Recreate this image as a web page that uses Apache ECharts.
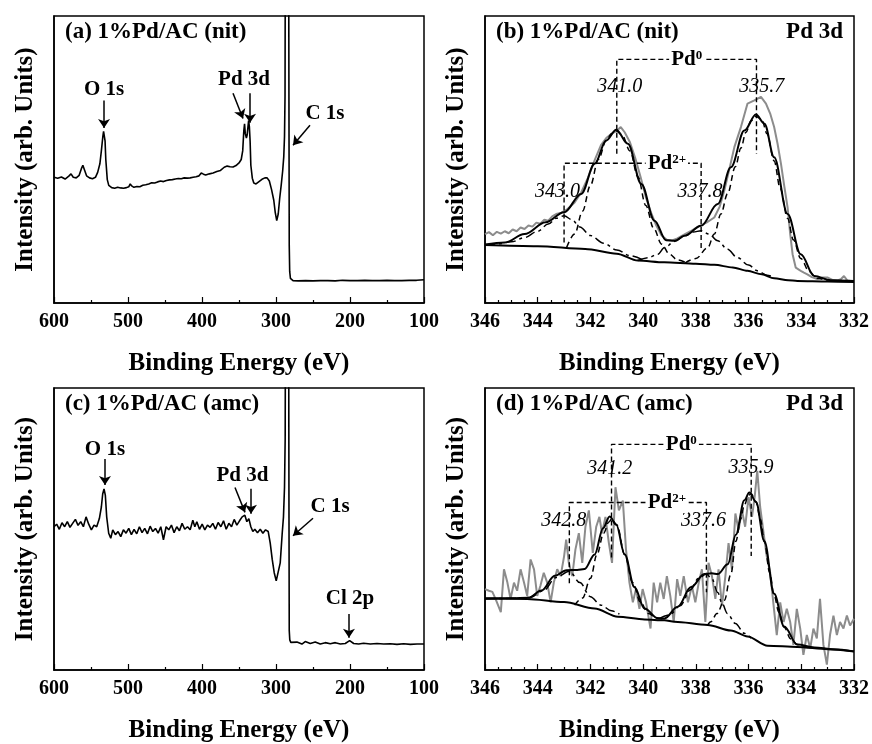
<!DOCTYPE html>
<html>
<head>
<meta charset="utf-8">
<script src="https://cdn.jsdelivr.net/npm/echarts/dist/echarts.min.js"></script>
<style>
  html, body { margin: 0; padding: 0; background: #fff; }
  #chart { width: 872px; height: 744px; }
</style>
</head>
<body>
<div id="chart"></div>
<script>
// ---- survey spectra: [binding energy (eV), intensity (arb.)] ----
var nitSurvey = [[600,43.8],[595,43.5],[590,43.9],[585,43.2],[580,44.2],[577,45.0],[574,43.8],[570,43.6],[566,44.5],[563,46.8],[561,48.0],[559,46.5],[556,44.3],[552,43.6],[548,43.3],[544,43.8],[541,45.5],[538,48.5],[536,53.0],[534,58.0],[533,59.8],[532,59.5],[531,56.5],[530,50.0],[528,43.0],[526,41.0],[522,40.2],[518,40.0],[514,40.3],[510,40.1],[506,40.0],[502,40.2],[499,40.5],[497,41.5],[495,40.8],[492,40.3],[488,40.6],[484,40.5],[480,41.0],[476,41.2],[472,41.5],[468,41.9],[464,41.8],[460,42.2],[456,42.5],[452,42.3],[448,42.7],[444,42.9],[440,43.0],[436,43.2],[432,43.4],[428,43.3],[424,43.6],[420,43.5],[416,43.6],[412,43.8],[408,44.0],[404,44.3],[401,45.3],[398,44.9],[395,44.6],[390,45.0],[385,45.3],[380,45.8],[375,46.2],[370,47.3],[366,47.7],[362,47.5],[358,47.4],[354,47.9],[350,48.8],[347,50.0],[345,53.0],[343.5,60.0],[342.5,62.4],[341.5,59.0],[340,57.5],[339,58.5],[338,61.0],[337,63.6],[336,61.5],[335,56.5],[334,48.0],[332,43.5],[330,41.8],[327,41.5],[323,42.3],[319,43.1],[315,43.6],[312,43.6],[309,42.5],[306,39.5],[303,35.8],[301,31.5],[299,28.7],[297,31.0],[295,36.5],[293,41.0],[291,46.0],[289.5,51.0],[288.5,58.0],[287.8,72.0],[287.3,140],[283,140],[282.5,70],[282.1,20],[281.5,11.0],[280.5,8.6],[279,8.0],[277,7.8],[270,7.7],[260,7.8],[250,7.7],[240,7.8],[230,7.8],[220,7.7],[210,7.9],[200,7.8],[190,7.8],[180,7.9],[170,7.8],[160,7.8],[150,7.9],[140,7.8],[130,7.8],[120,7.9],[110,7.9],[100,8.1]];

var amcSurvey = [[600,50.8],[596.4,51.7],[592.8,49.9],[589.2,52.2],[585.6,50.8],[582,52.6],[578.4,50.6],[574.8,52.0],[571.1,53.4],[567.5,51.3],[563.9,52.6],[560.3,50.8],[556.7,54.3],[553.1,51.7],[549.5,49.7],[545.9,51.4],[542.3,50.8],[538.7,53.7],[536,57.8],[534.2,62.4],[532.4,64.2],[530.6,61.9],[528.8,54.3],[526.1,48.5],[523.3,46.7],[520.6,49.7],[517,48.0],[513.4,49.1],[509.8,47.3],[506.2,49.7],[502.6,48.5],[499,50.2],[495.4,48.0],[491.8,49.9],[488.2,48.3],[484.6,50.8],[481,48.7],[477.4,50.2],[473.7,48.3],[470.1,51.0],[466.5,49.1],[462.9,50.2],[459.3,48.5],[455.7,50.8],[452.1,46.2],[448.5,50.8],[444.9,49.7],[441.3,51.4],[437.7,48.7],[434.1,50.8],[430.5,49.4],[426.9,52.0],[423.3,49.9],[419.6,50.8],[416,49.7],[412.4,53.1],[409.7,50.8],[407,52.6],[403.4,49.9],[399.8,51.7],[396.2,49.7],[392.6,51.4],[389,50.6],[385.4,52.0],[381.8,49.9],[378.2,52.3],[374.5,50.8],[370.9,52.9],[367.3,49.9],[363.7,52.0],[360.1,50.8],[356.5,53.4],[352.9,51.4],[349.3,52.9],[345.7,54.3],[342.1,54.9],[339.4,52.6],[336.7,53.7],[334,50.8],[331.3,49.1],[328.6,49.9],[325,48.7],[321.3,49.9],[317.7,48.5],[314.1,49.7],[310.5,49.1],[307.8,45.0],[305.1,39.2],[302.4,34.5],[299.7,31.6],[297,32.2],[294.3,38.0],[291.6,48.5],[289.9,54.3],[288.5,64.8],[287.6,82.0],[287.1,140],[283,140],[282.5,60],[282.1,14.0],[281.4,10.7],[280,9.8],[277.4,9.5],[271.7,9.9],[265,9.2],[260.5,10.1],[253.7,9.4],[247,9.9],[240.2,9.2],[233.4,9.7],[226.7,9.3],[219.9,9.7],[213.1,9.2],[206.4,9.4],[200.5,10.4],[195,9.4],[188.3,9.2],[181.6,9.5],[172.5,9.2],[163.5,9.4],[154.5,9.2],[145.5,9.3],[136.5,9.1],[127.5,9.3],[118.4,9.1],[109.4,9.2],[100,9.2]];

// ---- Pd 3d, 1%Pd/AC (nit) ----
var nitRaw = [[346.0,24.0],[345.85,24.7],[345.7,23.6],[345.55,24.8],[345.4,24.2],[345.25,25.0],[345.1,24.3],[344.95,25.6],[344.8,25.0],[344.65,26.3],[344.5,25.8],[344.35,27.0],[344.2,26.6],[344.05,28.0],[343.9,27.6],[343.75,29.0],[343.6,28.7],[343.45,30.2],[343.3,31.0],[343.1,31.5],[342.9,32.5],[342.6,35.0],[342.35,38.5],[342.1,43.5],[341.85,49.5],[341.6,55.0],[341.4,57.5],[341.2,59.0],[341.0,60.0],[340.85,61.3],[340.7,59.5],[340.5,56.0],[340.3,50.5],[340.1,44.0],[339.9,37.0],[339.7,31.5],[339.5,27.0],[339.3,23.5],[339.1,22.0],[338.9,21.8],[338.7,22.5],[338.43,23.9],[338.2,25.0],[337.93,26.5],[337.6,28.0],[337.3,29.8],[337.1,33.5],[336.92,39.2],[336.72,47.0],[336.54,54.3],[336.29,61.3],[336.04,69.5],[335.78,70.6],[335.53,71.8],[335.34,69.5],[335.18,66.0],[335.03,61.3],[334.9,55.5],[334.77,48.5],[334.65,41.0],[334.52,33.3],[334.42,24.0],[334.33,17.0],[334.21,12.3],[334.02,11.2],[333.9,10.6],[333.77,10.0],[333.6,9.0],[333.39,8.3],[333.2,8.9],[333.01,8.9],[332.8,8.0],[332.63,7.9],[332.5,8.3],[332.38,9.4],[332.25,7.8],[332.13,7.7],[332.0,7.6]];
var nitEnvelope = [[346,20.4],[345.24,21.1],[344.5,24.0],[343.7,28.1],[343.0,31.6],[342.35,38.0],[341.84,48.5],[341.4,56.6],[341.02,60.4],[340.58,55.5],[340.07,41.5],[339.57,28.7],[339.13,21.9],[338.8,21.7],[338.43,23.4],[337.8,26.9],[337.17,34.5],[336.67,47.3],[336.16,60.1],[335.72,65.7],[335.4,62.5],[335.03,50.8],[334.52,31.0],[334.02,17.0],[333.51,9.4],[332.88,7.9],[332.0,7.7]];
var nitBackground = [[346,20.2],[344,19.8],[342.2,18.8],[341,17.2],[340.2,14.8],[339.2,14.2],[338,13.7],[337.3,13.3],[336.6,12.4],[336.04,11.2],[335.5,10.0],[335.03,8.6],[334.5,7.9],[334.15,7.7],[333,7.5],[332,7.3]];
var nitPd0a = [[342.9,19.4],[342.6,24],[342.3,32],[342.0,41],[341.7,50],[341.4,56.5],[341.2,59],[341.0,59.8],[340.8,58.5],[340.5,53],[340.2,44],[339.9,34],[339.6,26],[339.3,20.5],[339.0,17],[338.7,15],[338.4,14.2]];
var nitPd0b = [[338.4,14.0],[338.0,15.5],[337.55,19.3],[337.3,24],[337.05,31],[336.8,38],[336.5,47.5],[336.29,54],[336.1,59.5],[335.9,63.5],[335.72,65],[335.5,64],[335.3,59],[335.03,49.5],[334.8,40],[334.52,29.5],[334.3,22],[334.02,15.5],[333.7,11],[333.4,8.6],[333.0,7.7]];
var nitPd2a = [[346,20.2],[345.5,20.6],[345,21.3],[344.5,22.8],[344,25.0],[343.6,27.5],[343.3,29.5],[343.0,30.4],[342.7,29.0],[342.4,26.5],[342.0,23.5],[341.5,20.8],[341.0,18.5],[340.5,16.5],[340.0,15.0]];
var nitPd2b = [[340.2,14.8],[339.8,15.8],[339.44,17.0],[339.19,19.3],[338.8,21.5],[338.4,23.5],[338.1,24.7],[337.8,25.2],[337.5,24.0],[337.17,21.7],[336.8,18.7],[336.42,15.8],[336.0,13.2],[335.66,11.2],[335.3,9.7],[335.03,8.9]];

// ---- Pd 3d, 1%Pd/AC (amc) ----
var amcRaw = [[346.0,28.7],[345.85,28.1],[345.72,27.7],[345.6,25.2],[345.4,20.5],[345.28,35.7],[345.15,31.0],[345.03,25.2],[344.9,31.0],[344.78,28.1],[344.65,35.7],[344.52,31.0],[344.4,26.3],[344.27,39.2],[344.14,35.7],[344.02,26.3],[343.9,29.8],[343.77,34.5],[343.64,31.0],[343.51,24.0],[343.39,31.0],[343.26,35.7],[343.13,33.3],[343.0,40.3],[342.92,46.2],[342.82,38.0],[342.69,33.3],[342.57,42.7],[342.44,48.5],[342.31,38.0],[342.19,50.8],[342.06,56.6],[341.91,41.5],[341.78,50.8],[341.66,54.3],[341.56,48.5],[341.43,54.3],[341.3,45.0],[341.18,38.0],[341.05,64.8],[340.92,56.6],[340.77,60.1],[340.65,42.7],[340.52,31.0],[340.39,24.0],[340.27,28.7],[340.14,21.7],[340.02,28.7],[339.89,24.0],[339.72,14.7],[339.6,31.0],[339.47,24.0],[339.35,31.0],[339.22,25.2],[339.1,33.3],[338.97,26.3],[338.84,17.0],[338.71,32.2],[338.59,26.3],[338.46,33.3],[338.3,24.0],[338.15,29.8],[338.02,24.0],[337.89,31.0],[337.77,35.7],[337.64,17.0],[337.52,38.0],[337.39,33.3],[337.26,25.2],[337.14,35.7],[337.01,22.8],[336.88,33.3],[336.76,45.0],[336.63,35.7],[336.5,55.5],[336.38,49.6],[336.25,56.6],[336.13,50.8],[336.0,61.3],[335.87,54.3],[335.77,61.3],[335.67,70.6],[335.56,57.8],[335.43,48.5],[335.31,40.3],[335.18,34.5],[335.05,22.8],[334.93,12.4],[334.8,24.0],[334.67,17.0],[334.55,21.7],[334.42,17.0],[334.3,8.9],[334.17,21.7],[334.04,14.7],[333.92,5.4],[333.79,12.4],[333.66,7.7],[333.54,14.7],[333.41,11.2],[333.29,25.2],[333.16,8.9],[333.03,1.9],[332.91,12.4],[332.78,19.3],[332.65,12.4],[332.53,17.0],[332.4,14.7],[332.27,19.3],[332.15,15.8],[332.0,18.2]];
var amcEnvelope = [[346,25.4],[345.0,25.4],[344.36,25.6],[343.86,28.2],[343.35,33.4],[342.91,35.4],[342.5,35.5],[342.22,35.8],[341.84,41.0],[341.52,50.3],[341.27,54.4],[341.02,51.5],[340.7,41.0],[340.33,29.4],[339.95,21.8],[339.44,18.3],[339.19,18.3],[338.69,22.4],[338.18,29.4],[337.68,34.0],[337.4,34.3],[337.17,34.0],[336.79,37.5],[336.48,48.0],[336.16,60.2],[335.97,62.9],[335.72,59.7],[335.4,45.7],[335.03,27.0],[334.65,15.4],[334.15,9.0],[333.5,8.0],[332.8,7.4],[332.0,6.6]];
var amcBackground = [[346,25.3],[344.4,25.2],[343.0,24.1],[341.84,21.8],[340.96,18.9],[339.95,17.9],[339.19,17.6],[338.81,17.1],[337.55,16.0],[336.67,14.0],[336.04,11.9],[335.28,8.6],[334.15,8.2],[333,7.4],[332,6.6]];
var amcPd0a = [[342.6,23.0],[342.3,25.5],[342.0,32.5],[341.75,41.0],[341.5,48.5],[341.3,52.5],[341.2,53.5],[341.0,51.5],[340.7,41.0],[340.4,31.0],[340.1,24.0],[339.8,20.0],[339.5,18.5],[339.2,17.9]];
var amcPd0b = [[337.55,16.0],[337.43,17.1],[337.2,20.0],[336.92,24.7],[336.67,34.0],[336.48,45.7],[336.3,53.5],[336.16,58.5],[336.0,62.0],[335.9,62.5],[335.72,59.5],[335.55,53.5],[335.4,45.5],[335.2,34.5],[335.03,26.5],[334.85,20.5],[334.65,15.2],[334.4,11.0],[334.15,9.0],[333.8,8.0]];
var amcPd2a = [[346,25.3],[345,25.4],[344.3,25.7],[343.8,28.0],[343.3,32.8],[342.8,35.0],[342.4,31.0],[342.0,26.0],[341.6,23.0],[341.2,21.0],[340.9,19.8]];
var amcPd2b = [[339.4,18.2],[339.0,19.5],[338.6,22.8],[338.2,28.5],[337.9,32.5],[337.6,34.0],[337.4,32.5],[337.17,27.5],[337.0,23.5],[336.8,20.0],[336.5,16.5],[336.16,13.0],[335.9,11.3]];

// peak positions (eV) named in the fits
var nitPeaks = { pd0: [341.0, 335.7], pd2: [343.0, 337.8] };
var amcPeaks = { pd0: [341.2, 335.9], pd2: [342.8, 337.6] };

var FONT = '"Liberation Serif", "Times New Roman", serif';

var chart = echarts.init(document.getElementById('chart'), null, { renderer: 'canvas' });

var gridPos = [
    { left: 54, top: 16 },
    { left: 485, top: 16 },
    { left: 54, top: 388 },
    { left: 485, top: 388 }
];

var grids = gridPos.map(function (g) {
    return {
        left: g.left, top: g.top, width: 370, height: 287,
        show: true, borderColor: '#000', borderWidth: 1.5, backgroundColor: '#fff'
    };
});

function xAxisFor(i, survey) {
    return {
        gridIndex: i,
        type: 'value',
        inverse: true,
        min: survey ? 100 : 332,
        max: survey ? 600 : 346,
        interval: survey ? 100 : 2,
        name: 'Binding Energy (eV)',
        nameLocation: 'middle',
        nameGap: 48,
        nameTextStyle: { fontFamily: FONT, fontWeight: 'bold', fontSize: 25, color: '#000' },
        axisLine: { show: true, lineStyle: { color: '#000', width: 1.5 } },
        axisTick: { show: true, inside: true, length: 6, lineStyle: { color: '#000', width: 1.2 } },
        minorTick: { show: true, splitNumber: survey ? 2 : 4, length: 3, lineStyle: { color: '#000', width: 1.2 } },
        axisLabel: { fontFamily: FONT, fontWeight: 'bold', fontSize: 20, color: '#000', margin: 9 },
        splitLine: { show: false },
        minorSplitLine: { show: false }
    };
}

function yAxisFor(i) {
    return {
        gridIndex: i,
        type: 'value',
        min: 0,
        max: 100,
        name: 'Intensity (arb. Units)',
        nameLocation: 'middle',
        nameGap: 16,
        nameTextStyle: { fontFamily: FONT, fontWeight: 'bold', fontSize: 25, color: '#000' },
        axisLine: { show: true, lineStyle: { color: '#000', width: 1.5 } },
        axisTick: { show: false },
        axisLabel: { show: false },
        splitLine: { show: false }
    };
}

function curve(i, pts, opt) {
    return {
        type: 'line',
        xAxisIndex: i, yAxisIndex: i,
        data: pts,
        symbol: 'none',
        silent: true,
        smooth: opt.smooth || false,
        smoothMonotone: opt.smooth ? 'x' : undefined,
        lineStyle: { color: opt.color || '#000', width: opt.width || 1.5, type: opt.type || 'solid' },
        z: opt.z || 2,
        markLine: opt.markLine
    };
}

// text placed at data coordinates; styles go through a rich token so nothing is inherited
function texts(i, items, style, rich) {
    var token = Object.assign({ fontFamily: FONT, color: '#000', textBorderWidth: 0 }, style);
    return {
        type: 'scatter',
        xAxisIndex: i, yAxisIndex: i,
        symbolSize: 1,
        silent: true,
        itemStyle: { color: 'rgba(0,0,0,0)' },
        z: 6,
        data: items.map(function (t) { return { value: [t[0], t[1]], name: t[2] }; }),
        label: {
            show: true,
            position: 'inside',
            color: '#000',
            opacity: 1,
            textBorderWidth: 0,
            textBorderColor: 'transparent',
            backgroundColor: rich ? '#fff' : 'transparent',
            padding: rich ? [0, 2] : 0,
            formatter: function (p) { return rich ? p.name : '{t|' + p.name + '}'; },
            rich: rich || { t: token }
        }
    };
}

function arrows(list) {
    return {
        silent: true,
        animation: false,
        symbol: ['none', 'arrow'],
        symbolSize: 9,
        label: { show: false },
        lineStyle: { color: '#000', width: 1.5, type: 'solid' },
        data: list.map(function (a) { return [{ coord: [a[0], a[1]] }, { coord: [a[2], a[3]] }]; })
    };
}

// bracket: vertical from peak a, across, down to peak b
function bracket(i, xa, ya, xb, yb, top) {
    return curve(i, [[xa, ya], [xa, top], [xb, top], [xb, yb]], { type: [5, 3], width: 1.4, z: 3 });
}

var bold21 = { fontWeight: 'bold', fontSize: 21 };
var ital = { fontStyle: 'italic', fontSize: 20 };
var stateRich = {
    m: { fontFamily: FONT, fontWeight: 'bold', fontSize: 21, color: '#000', textBorderWidth: 0 },
    s: { fontFamily: FONT, fontWeight: 'bold', fontSize: 13, color: '#000', textBorderWidth: 0, verticalAlign: 'top', lineHeight: 13 }
};

var dashed = [6, 4];
var dashDot = [10, 4, 3, 4];

var series = [
    // (a) survey nit
    curve(0, nitSurvey, {
        width: 1.6,
        markLine: arrows([
            [532.4, 70.6, 532.4, 61.0],
            [358.1, 73.1, 344.6, 64.3],
            [335.1, 73.1, 335.1, 62.8],
            [254.1, 61.9, 277.0, 55.0]
        ])
    }),
    texts(0, [[532.4, 74.5, 'O 1s'], [343.2, 78.0, 'Pd 3d'], [233.8, 66.1, 'C 1s']], bold21),

    // (b) Pd 3d nit
    curve(1, nitRaw, { color: '#8c8c8c', width: 2, z: 1 }),
    curve(1, nitBackground, { width: 2, smooth: 0.3 }),
    curve(1, nitEnvelope, { width: 2, smooth: 0.35 }),
    curve(1, nitPd0a, { type: dashed, width: 1.5, smooth: 0.35 }),
    curve(1, nitPd0b, { type: dashed, width: 1.5, smooth: 0.35 }),
    curve(1, nitPd2a, { type: dashDot, width: 1.5, smooth: 0.35 }),
    curve(1, nitPd2b, { type: dashDot, width: 1.5, smooth: 0.35 }),
    bracket(1, nitPeaks.pd0[0], 52, nitPeaks.pd0[1], 52, 84.9),
    bracket(1, nitPeaks.pd2[0], 21.1, nitPeaks.pd2[1], 18.2, 48.7),
    texts(1, [[340.89, 75.5, '341.0'], [335.5, 75.5, '335.7'], [343.25, 38.6, '343.0'], [337.84, 38.6, '337.8']], ital),
    texts(1, [[338.35, 84.9, '{m|Pd}{s|0}'], [339.1, 48.7, '{m|Pd}{s|2+}']], null, stateRich),

    // (c) survey amc
    curve(2, amcSurvey, {
        width: 1.6,
        markLine: arrows([
            [531.1, 74.8, 531.1, 65.6],
            [355.4, 64.7, 341.9, 55.9],
            [333.8, 64.3, 333.8, 55.4],
            [250.0, 53.8, 277.0, 47.6],
            [201.4, 19.9, 201.4, 11.4]
        ])
    }),
    texts(2, [[531.1, 78.0, 'O 1s'], [345.3, 68.9, 'Pd 3d'], [227.0, 58.0, 'C 1s'], [200.0, 25.2, 'Cl 2p']], bold21),

    // (d) Pd 3d amc
    curve(3, amcRaw, { color: '#8c8c8c', width: 2, z: 1 }),
    curve(3, amcBackground, { width: 2, smooth: 0.3 }),
    curve(3, amcEnvelope, { width: 2, smooth: 0.35 }),
    curve(3, amcPd0a, { type: dashed, width: 1.5, smooth: 0.35 }),
    curve(3, amcPd0b, { type: dashed, width: 1.5, smooth: 0.35 }),
    curve(3, amcPd2a, { type: dashDot, width: 1.5, smooth: 0.35 }),
    curve(3, amcPd2b, { type: dashDot, width: 1.5, smooth: 0.35 }),
    bracket(3, amcPeaks.pd0[0], 39.9, amcPeaks.pd0[1], 40.4, 80),
    bracket(3, amcPeaks.pd2[0], 30.8, amcPeaks.pd2[1], 27.6, 59.4),
    texts(3, [[341.27, 71.3, '341.2'], [335.91, 71.6, '335.9'], [343.01, 52.9, '342.8'], [337.71, 52.9, '337.6']], ital),
    texts(3, [[338.55, 80, '{m|Pd}{s|0}'], [339.1, 59.4, '{m|Pd}{s|2+}']], null, stateRich)
];

var titleStyle = { fontFamily: FONT, fontWeight: 'bold', fontSize: 23, color: '#000' };

var option = {
    animation: false,
    backgroundColor: '#fff',
    title: [
        { text: '(a) 1%Pd/AC (nit)', left: 65, top: 21, padding: 0, textStyle: titleStyle },
        { text: '(b) 1%Pd/AC (nit)', left: 496, top: 21, padding: 0, textStyle: titleStyle },
        { text: 'Pd 3d', right: 29, top: 21, padding: 0, textStyle: titleStyle },
        { text: '(c) 1%Pd/AC (amc)', left: 65, top: 393, padding: 0, textStyle: titleStyle },
        { text: '(d) 1%Pd/AC (amc)', left: 496, top: 393, padding: 0, textStyle: titleStyle },
        { text: 'Pd 3d', right: 29, top: 393, padding: 0, textStyle: titleStyle }
    ],
    grid: grids,
    xAxis: [xAxisFor(0, true), xAxisFor(1, false), xAxisFor(2, true), xAxisFor(3, false)],
    yAxis: [yAxisFor(0), yAxisFor(1), yAxisFor(2), yAxisFor(3)],
    series: series
};

chart.setOption(option);
</script>
</body>
</html>
